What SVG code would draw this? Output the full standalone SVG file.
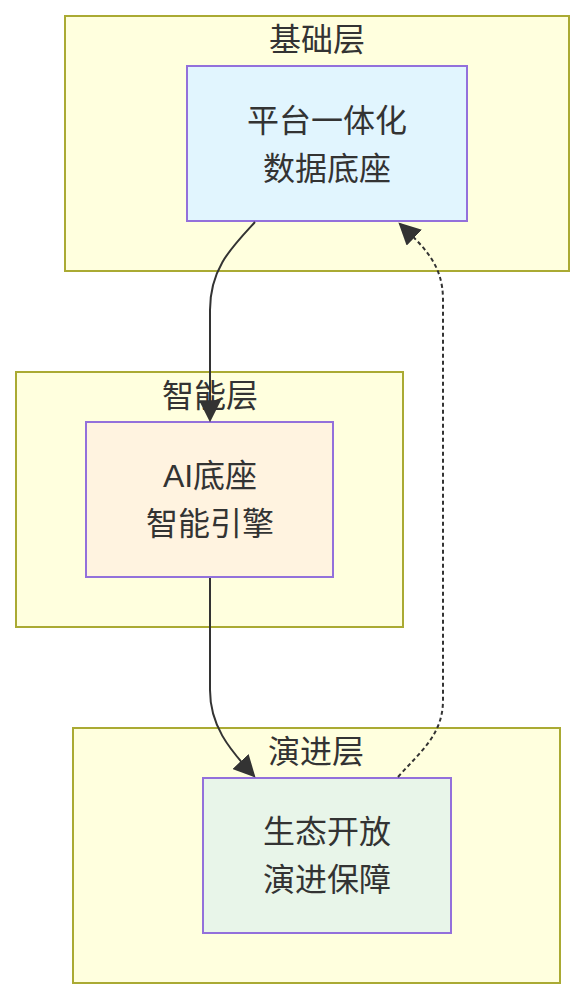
<svg xmlns="http://www.w3.org/2000/svg" width="585" height="1000" viewBox="0 0 585 1000">
<style>
.cluster{fill:#ffffde;stroke:#aaaa33;stroke-width:2}
.node{stroke:#9370db;stroke-width:2}
text{font-family:"Liberation Sans","Noto Sans CJK SC",sans-serif;font-size:32px;fill:#333;text-anchor:middle;dominant-baseline:central}
.edge{fill:none;stroke:#333;stroke-width:2}
.dash{stroke-dasharray:4 3}
</style>
<defs>
<marker id="arrL" viewBox="0 0 10 10" refX="9" refY="5" markerWidth="22" markerHeight="22" markerUnits="userSpaceOnUse" orient="auto">
<path d="M0,0 L10,5 L0,10 z" fill="#333"/>
</marker>
</defs>
<g id="cluster-base">
<rect class="cluster" x="65" y="16" width="504" height="255"/>
<text x="317" y="40">基础层</text>
</g>
<g id="cluster-ai">
<rect class="cluster" x="16" y="372" width="387" height="255"/>
<text x="210" y="396">智能层</text>
</g>
<g id="cluster-evo">
<rect class="cluster" x="73" y="728" width="487" height="255"/>
<text x="316" y="752">演进层</text>
</g>
<g id="node-data">
<rect class="node" x="187" y="66" width="280" height="155" fill="#e1f5fe"/>
<text x="327" y="121">平台一体化</text>
<text x="327" y="169">数据底座</text>
</g>
<g id="node-ai">
<rect class="node" x="86" y="422" width="247" height="155" fill="#fff3e0"/>
<text x="210" y="476">AI底座</text>
<text x="210" y="524">智能引擎</text>
</g>
<g id="node-evo">
<rect class="node" x="203" y="778" width="248" height="155" fill="#e8f5e9"/>
<text x="327" y="832">生态开放</text>
<text x="327" y="880">演进保障</text>
</g>
<g id="connectors">
<path class="edge" d="M255,222 C232,247 210,268 210,310 L210,420" marker-end="url(#arrL)"/>
<path class="edge" d="M210,578 L210,690 C210,725 228,748 254,776" marker-end="url(#arrL)"/>
<path class="edge dash" d="M398,777 C420,752 443,735 443,700 L443,300 C443,265 425,248 400,224" marker-end="url(#arrL)"/>
</g>
</svg>
